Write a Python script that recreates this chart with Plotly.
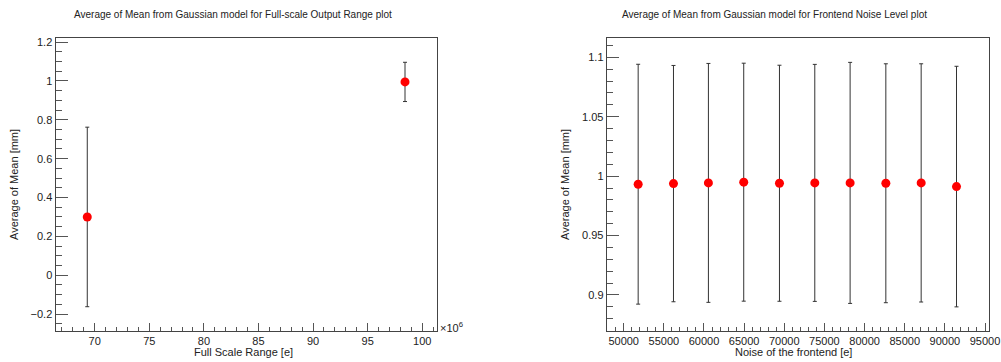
import plotly.graph_objects as go

# Left panel data
full_scale_range = [69.32e6, 98.42e6]
fsr_mean = [0.300, 0.995]
fsr_err = [0.462, 0.101]

# Right panel data
noise_level = [51800, 56200, 60550, 64950, 69400, 73800, 78200, 82650, 87050, 91450]
noise_mean = [0.9932, 0.9937, 0.9943, 0.9949, 0.9940, 0.9943, 0.9943, 0.9940, 0.9943, 0.9912]
noise_err = [0.1009, 0.0994, 0.1005, 0.1001, 0.0993, 0.0997, 0.1014, 0.1005, 0.1002, 0.1012]

FONT = "Liberation Sans, Arial, Helvetica, sans-serif"
W, H = 1001, 362

fig = go.Figure()
fig.add_trace(go.Scatter(
    x=[v / 1e6 for v in full_scale_range], y=fsr_mean, mode="markers",
    marker=dict(color="#ff0000", size=9),
    error_y=dict(type="data", array=fsr_err, color="#333333", thickness=1, width=2),
    xaxis="x", yaxis="y", showlegend=False))
fig.add_trace(go.Scatter(
    x=noise_level, y=noise_mean, mode="markers",
    marker=dict(color="#ff0000", size=9),
    error_y=dict(type="data", array=noise_err, color="#333333", thickness=1, width=2),
    xaxis="x2", yaxis="y2", showlegend=False))

ydom = [(H - 331) / H, (H - 38) / H]
axcommon = dict(showline=True, mirror=True, linecolor="#444444", linewidth=1,
                showgrid=False, zeroline=False, ticks="inside", tickcolor="#555555",
                tickfont=dict(family=FONT, size=11, color="#222222"), automargin=False)

fig.update_layout(
    width=W, height=H, margin=dict(l=0, r=0, t=0, b=0),
    paper_bgcolor="white", plot_bgcolor="white",
    xaxis=dict(domain=[55.5 / W, 437 / W], range=[66.41, 101.35], anchor="y",
               dtick=5, tick0=0, ticklen=8,
               minor=dict(ticks="inside", ticklen=4, dtick=1, tick0=0, tickcolor="#555555"),
               **axcommon),
    yaxis=dict(domain=ydom, range=[-0.287, 1.221], anchor="x",
               dtick=0.2, tick0=0, ticklen=12,
               minor=dict(ticks="inside", ticklen=6, dtick=0.05, tick0=0, tickcolor="#555555"),
               **axcommon),
    xaxis2=dict(domain=[606.7 / W, 988.7 / W], range=[47882, 95461], anchor="y2",
                dtick=5000, tick0=0, ticklen=8, tickformat="d",
                minor=dict(ticks="inside", ticklen=4, dtick=1000, tick0=0, tickcolor="#555555"),
                **axcommon),
    yaxis2=dict(domain=ydom, range=[0.8697, 1.1162], anchor="x2",
                dtick=0.05, tick0=0, ticklen=12,
                minor=dict(ticks="inside", ticklen=6, dtick=0.01, tick0=0, tickcolor="#555555"),
                **axcommon),
)

def ann(text, x, y, size=11, angle=0, xanchor="center", yanchor="middle"):
    fig.add_annotation(text=text, x=x / W, y=1 - y / H, xref="paper", yref="paper",
                       showarrow=False, textangle=angle, xanchor=xanchor, yanchor=yanchor,
                       font=dict(family=FONT, size=size, color="#222222"))

ann("Average of Mean from Gaussian model for Full-scale Output Range plot", 233, 15, size=10)
ann("Average of Mean from Gaussian model for Frontend Noise Level plot", 774, 15, size=10)
ann("Full Scale Range [e]", 243, 352)
ann("Noise of the frontend [e]", 793, 352)
ann("Average of Mean [mm]", 14, 185, angle=-90)
ann("Average of Mean [mm]", 565, 185, angle=-90)
ann("×10<sup>6</sup>", 438, 327, size=11, xanchor="left")

fig.write_html("out.html")
